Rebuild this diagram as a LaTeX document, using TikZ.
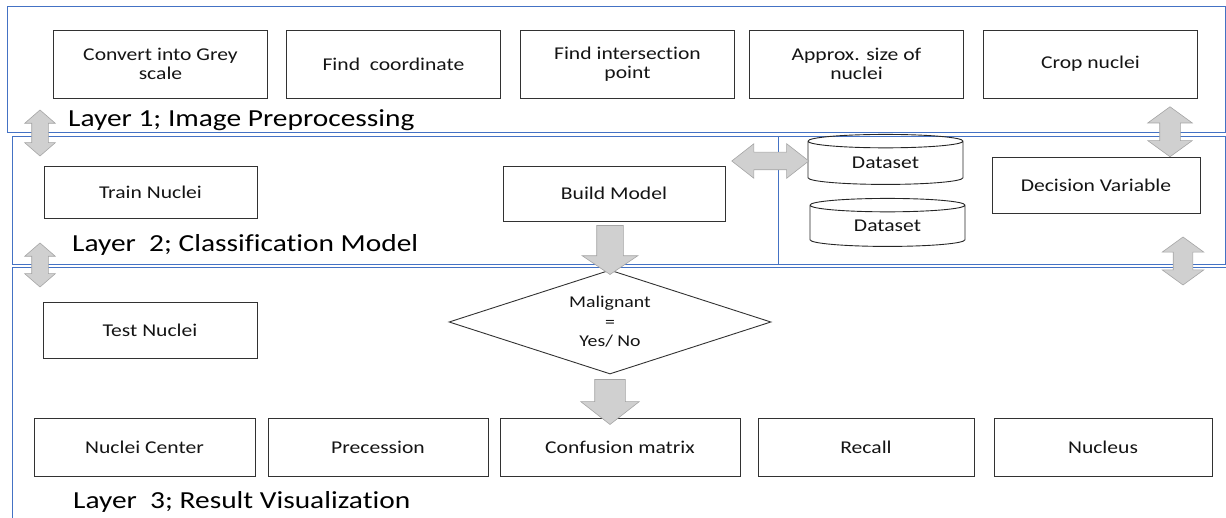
\documentclass[tikz,border=0pt]{standalone}
\usepackage{fontspec}
\setmainfont{Carlito}[FakeStretch=1.2, Ligatures=NoCommon]
\usetikzlibrary{shapes.geometric,shapes.arrows}
\definecolor{frameblue}{RGB}{68,114,196}
\definecolor{arrowfill}{RGB}{208,208,208}
\definecolor{arrowedge}{RGB}{165,165,165}
\definecolor{boxline}{RGB}{50,50,50}
\tikzset{
  box/.style={draw=boxline, line width=0.9pt, minimum width=214pt, minimum height=68pt, align=center, text=black!92, font=\fontsize{18}{19.5}\selectfont},
  layer/.style={draw=frameblue, line width=1pt},
  layertitle/.style={anchor=west, inner sep=0pt, text=black, font=\fontsize{24.5}{28}\selectfont},
  store/.style={cylinder, shape border rotate=90, aspect=0.2, draw=black!85, line width=0.9pt, minimum width=155pt, minimum height=50pt, inner sep=0pt, text=black!92, font=\fontsize{18}{19.5}\selectfont},
  fatarrow/.style={draw=arrowedge, fill=arrowfill, line width=0.6pt, inner xsep=0pt, sloped, allow upside down}
}
\begin{document}
\begin{tikzpicture}[x=1pt,y=-1pt]
    \useasboundingbox (0,0) rectangle (1226,518);
    \draw[layer] (7,7) rectangle (1225,133);
    \draw[layer] (12,137) rectangle (778,265);
    \draw[layer] (778,137) rectangle (1225,265);
    \draw[layer] (1226,268) -- (12,268) -- (12,518);

    \node[box] (grey) at (160.5,64) {Convert into Grey\\scale};
    \node[box] (coord) at (393.5,64) {Find~ coordinate};
    \node[box] (inter) at (627.5,64) {Find intersection\\point};
    \node[box] (approx) at (856.5,64) {Approx. size of\\nuclei};
    \node[box] (crop) at (1090.5,64) {Crop nuclei};
    \node[layertitle] (title1) at (68,120) {Layer 1; Image Preprocessing};

    \node[box, minimum width=213pt, minimum height=52pt] (train) at (150.5,192) {Train Nuclei};
    \node[box, minimum width=222pt, minimum height=55pt] (build) at (614,193.5) {Build Model};
    \node[store] (data1) at (885.5,163) {Dataset};
    \node[store, minimum height=48pt] (data2) at (887.5,226) {Dataset};
    \node[box, minimum width=208pt, minimum height=56pt] (decision) at (1096,185) {Decision Variable};
    \node[layertitle] (title2) at (72,245) {Layer~~2; Classification Model};

    \node[box, minimum height=56pt] (test) at (150,330) {Test Nuclei};
    \node[diamond, draw=boxline, line width=0.9pt, aspect=3.1, minimum width=322pt, minimum height=104pt, inner sep=0pt, align=center, text=black!92, font=\fontsize{16.5}{19.5}\selectfont] (malig) at (610,322) {Malignant\\=\\Yes/ No};
    \node[box, minimum width=221pt, minimum height=58pt] (center) at (144.5,447) {Nuclei Center};
    \node[box, minimum width=220pt, minimum height=58pt] (prec) at (378,447) {Precession};
    \node[box, minimum width=240pt, minimum height=58pt] (conf) at (620,447) {Confusion matrix};
    \node[box, minimum width=216pt, minimum height=58pt] (recall) at (866,447) {Recall};
    \node[box, minimum width=218pt, minimum height=58pt] (nucleus) at (1103,447) {Nucleus};
    \node[layertitle] (title3) at (73,502) {Layer~~3; Result Visualization};

    \coordinate (gate1) at (40,110);
    \coordinate (gate2) at (40,156);
    \coordinate (gate3) at (40,243);
    \coordinate (gate4) at (40,287);
    \coordinate (cropgate) at (1170,107);
    \coordinate (decgate) at (1183,237);
    \coordinate (lowgate) at (1183,285);
    \coordinate (datagate) at (733,161);

    \path (gate1) -- (gate2) node[fatarrow, double arrow, midway, minimum height=46pt, inner ysep=8pt, double arrow head extend=7pt, double arrow tip angle=98] {};
    \path (gate3) -- (gate4) node[fatarrow, double arrow, midway, minimum height=44pt, inner ysep=8pt, double arrow head extend=7pt, double arrow tip angle=98] {};
    \path (cropgate) -- (decision.north -| cropgate) node[fatarrow, double arrow, midway, minimum height=50pt, inner ysep=10pt, double arrow head extend=12pt, double arrow tip angle=108] {};
    \path (decgate) -- (lowgate) node[fatarrow, double arrow, midway, minimum height=48pt, inner ysep=9.5pt, double arrow head extend=11pt, double arrow tip angle=108] {};
    \path (datagate) -- (datagate -| data1.west) node[fatarrow, double arrow, midway, minimum height=77pt, inner ysep=8.5pt, double arrow head extend=8.5pt, double arrow tip angle=76] {};
    \path (build.south -| malig.north) -- (malig.north) node[fatarrow, single arrow, midway, minimum height=49pt, inner ysep=13pt, single arrow head extend=14.5pt, single arrow tip angle=112] {};
    \path (malig.south) -- (malig.south |- conf.north) node[fatarrow, single arrow, midway, minimum height=45pt, inner ysep=15pt, single arrow head extend=14pt, single arrow tip angle=104] {};
\end{tikzpicture}
\end{document}
